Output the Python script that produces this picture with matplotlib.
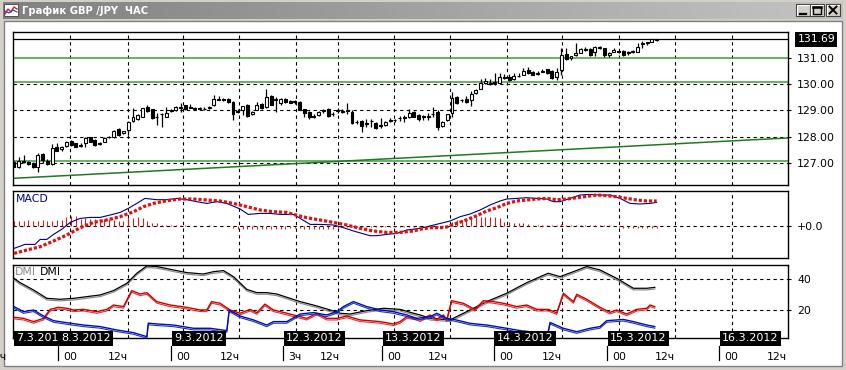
import matplotlib
matplotlib.use('Agg')
import matplotlib.pyplot as plt
import matplotlib.transforms as mtrans
from matplotlib.colors import LinearSegmentedColormap
from matplotlib.patches import Rectangle
import numpy as np

plt.rcParams['font.family'] = ['DejaVu Sans']

# === data: GBP/JPY, H1 ===
opens = [127.06, 126.87, 127.08, 127.06, 127.02, 126.87, 127.36, 127.10, 126.98, 127.63,
         127.53, 127.66, 127.84, 127.75, 127.66, 127.78, 127.98, 127.90, 127.74, 127.82,
         128.00, 127.98, 128.29, 128.14, 128.26, 128.62, 128.67, 128.77, 129.12, 129.04,
         128.75, 128.86, 128.77, 128.98, 129.00, 129.10, 129.20, 129.12, 129.08, 129.06,
         129.05, 129.10, 129.20, 129.45, 129.42, 129.43, 129.33, 128.96, 129.02, 129.21,
         128.86, 129.02, 129.24, 129.12, 129.55, 129.42, 129.27, 129.45, 129.37, 129.36,
         129.34, 129.04, 128.96, 128.80, 128.83, 128.98, 129.04, 128.86, 128.98, 128.99,
         128.97, 128.93, 128.58, 128.61, 128.52, 128.60, 128.54, 128.45, 128.45, 128.62,
         128.63, 128.70, 128.75, 128.75, 128.95, 128.82, 128.78, 128.76, 128.86, 128.96,
         128.42, 128.63, 128.92, 129.50, 129.38, 129.45, 129.38, 129.65, 129.82, 130.06,
         130.05, 130.05, 130.06, 130.25, 130.28, 130.18, 130.30, 130.35, 130.53, 130.47,
         130.42, 130.47, 130.56, 130.50, 130.28, 130.53, 131.14, 130.98, 131.10, 131.19,
         131.33, 131.32, 131.23, 131.40, 131.35, 131.10, 131.23, 131.27, 131.26, 131.18,
         131.23, 131.23, 131.52, 131.55, 131.61, 131.68]
highs = [127.10, 127.25, 127.32, 127.10, 127.05, 127.38, 127.38, 127.15, 127.73, 127.78,
         127.65, 127.85, 127.87, 127.78, 127.76, 127.98, 128.00, 127.92, 127.80, 128.01,
         128.03, 128.25, 128.33, 128.24, 128.60, 129.08, 128.88, 129.10, 129.20, 129.07,
         128.89, 128.92, 129.12, 129.05, 129.18, 129.27, 129.22, 129.25, 129.15, 129.13,
         129.12, 129.17, 129.59, 129.55, 129.48, 129.46, 129.36, 129.04, 129.18, 129.25,
         128.98, 129.33, 129.28, 129.80, 129.60, 129.52, 129.46, 129.48, 129.40, 129.38,
         129.36, 129.06, 128.98, 128.85, 128.97, 129.06, 129.08, 128.95, 129.08, 129.04,
         129.27, 129.02, 128.65, 128.64, 128.67, 128.67, 128.57, 128.70, 128.60, 128.70,
         128.67, 128.80, 128.84, 129.04, 128.98, 128.85, 128.84, 128.92, 129.15, 129.00,
         128.60, 128.88, 129.71, 129.55, 129.45, 129.55, 129.75, 129.80, 130.18, 130.22,
         130.18, 130.41, 130.43, 130.38, 130.38, 130.43, 130.41, 130.62, 130.63, 130.49,
         130.50, 130.59, 130.58, 130.52, 130.60, 131.35, 131.35, 131.05, 131.54, 131.35,
         131.39, 131.35, 131.45, 131.46, 131.37, 131.20, 131.35, 131.30, 131.28, 131.24,
         131.30, 131.54, 131.64, 131.61, 131.72, 131.72]
lows = [126.85, 126.83, 127.00, 126.95, 126.81, 126.68, 127.00, 126.95, 126.94, 127.45,
        127.48, 127.63, 127.65, 127.60, 127.62, 127.63, 127.80, 127.66, 127.70, 127.80,
        127.97, 127.95, 128.05, 128.10, 128.07, 128.58, 128.64, 128.75, 128.95, 128.68,
        128.45, 128.36, 128.74, 128.95, 128.98, 128.95, 129.02, 129.08, 129.00, 129.03,
        129.02, 129.05, 129.18, 129.38, 129.36, 129.28, 128.64, 128.92, 128.83, 128.76,
        128.83, 129.00, 129.05, 129.10, 129.20, 128.96, 129.22, 129.30, 129.28, 129.26,
        129.00, 128.77, 128.67, 128.72, 128.80, 128.92, 128.75, 128.80, 128.89, 128.90,
        128.86, 128.49, 128.48, 128.17, 128.36, 128.39, 128.30, 128.33, 128.42, 128.55,
        128.58, 128.62, 128.56, 128.72, 128.74, 128.62, 128.64, 128.65, 128.77, 128.26,
        128.38, 128.60, 128.77, 129.25, 129.33, 129.30, 129.17, 129.62, 129.80, 130.00,
        129.98, 129.97, 130.04, 130.20, 130.13, 130.15, 130.26, 130.33, 130.38, 130.33,
        130.36, 130.44, 130.38, 130.20, 130.16, 130.35, 130.90, 130.93, 131.08, 131.16,
        131.25, 131.06, 131.05, 131.33, 131.02, 131.04, 131.20, 131.17, 131.08, 131.12,
        131.18, 131.20, 131.35, 131.48, 131.58, 131.64]
closes = [126.87, 127.10, 127.06, 126.98, 126.85, 127.32, 127.13, 126.98, 127.57, 127.48,
          127.63, 127.82, 127.69, 127.63, 127.70, 127.94, 127.82, 127.69, 127.76, 127.95,
          128.01, 128.22, 128.08, 128.22, 128.58, 128.77, 128.83, 129.08, 128.99, 128.70,
          128.77, 128.88, 128.92, 129.02, 129.15, 129.12, 129.04, 129.10, 129.04, 129.08,
          129.07, 129.12, 129.43, 129.40, 129.38, 129.31, 128.87, 128.98, 129.17, 128.80,
          128.96, 129.21, 129.08, 129.52, 129.21, 129.40, 129.44, 129.33, 129.30, 129.34,
          129.02, 128.92, 128.77, 128.74, 128.95, 129.00, 128.79, 128.88, 129.01, 128.94,
          129.00, 128.51, 128.55, 128.41, 128.50, 128.62, 128.33, 128.42, 128.58, 128.64,
          128.64, 128.72, 128.73, 128.90, 128.77, 128.66, 128.76, 128.78, 128.88, 128.39,
          128.58, 128.86, 129.46, 129.30, 129.40, 129.34, 129.62, 129.77, 130.03, 130.10,
          130.00, 130.08, 130.26, 130.22, 130.15, 130.30, 130.31, 130.51, 130.41, 130.35,
          130.40, 130.50, 130.41, 130.22, 130.47, 131.10, 130.94, 131.06, 131.16, 131.32,
          131.28, 131.10, 131.41, 131.38, 131.10, 131.18, 131.28, 131.20, 131.10, 131.20,
          131.27, 131.42, 131.55, 131.58, 131.69, 131.69]

last_price = 131.69
price_ticks = [127.0, 128.0, 129.0, 130.0, 131.0]
support_levels = [131.00, 130.07, 127.10]     # green horizontal lines
trend_start, trend_end = 126.43, 127.96        # green trend line (left / right edge)

# MACD (pips): main line and signal, sampled at bar positions
macd_x = [0, 2.3, 4.4, 5.5, 6.9, 8.3, 10, 11.8, 13.9, 16, 18.1, 20.2, 22.3, 24, 25.8,
          27.5, 30, 32.1, 34.2, 36.3, 38.4, 40.5, 42.6, 44.7, 47.5, 49.2, 51.7, 53.8, 55.9, 58.7,
          60.1, 62.2, 64.3, 67.1, 69.2, 71.3, 74.8, 76.2, 78.3, 80.4, 82.5, 85.3, 91.6, 93.7, 95.8,
          97.9, 100, 102.1, 103.5, 105.6, 107.7, 109.8, 111.9, 113.3, 114.7, 116.8, 118.9, 121,
          123.1, 125.2, 127.3, 129.4, 131.5, 133.6, 135]
macd_v = [-22.7, -18.7, -18.7, -13.7, -13.7, -8.7, -3.7, 3.3, 7.3, 8.3, 8.3, 10.7, 13.3, 17.3, 22.3,
          27.3, 26, 26, 27.3, 26, 24, 22.3, 24, 22.3, 16.7, 11.3, 12.3, 12.3, 11.3, 11.3,
          7.3, 1.3, 1.3, 0.7, -2, -5.3, -10, -10, -8.7, -7.7, -4.3, -2.7, 4.7, 9, 11.7,
          15.7, 20.7, 24.7, 26.7, 27.3, 28, 27.3, 26.7, 24, 24, 27.3, 30.7, 31.3,
          30.7, 30.7, 27.3, 22.3, 21.7, 22.3, 23.3]
signal_x = [0, 2.7, 5.5, 8.3, 11.1, 13.9, 16.7, 19.5, 22.3, 25.1, 27.2, 29.3, 32.1, 34.9, 37.7,
            40.5, 43.3, 46.1, 48.9, 51.7, 54.5, 57.3, 58.7, 61.5, 64.3, 67.1, 69.9, 72.7, 75.5, 78.3,
            81.1, 83.9, 85.3, 87.4, 89.5, 90.9, 91.9, 93, 94.4, 95.8, 97.2, 99.3, 101.4, 103.5, 105.6,
            107.7, 109.8, 111.9, 114, 116.1, 118.2, 120.3, 122.4, 124.5, 126.6, 128.7, 130.8, 132.9, 135]
signal_v = [-27.7, -24.3, -21, -15.3, -9.3, -2, 3.3, 5.7, 9, 14, 19, 22.3, 25, 26.7, 26.7,
            25.7, 24.7, 22.3, 19, 15.7, 14, 13.3, 11.3, 8, 5.7, 3.3, 0.7, -2.7, -5.3, -6.7,
            -6.7, -5.3, -3.5, -2, -2, -1.3, 0.7, 2.3, 4.7, 7.3, 10, 14.7, 18, 22.3, 24.7,
            25.7, 26.7, 27.3, 26, 26.7, 28, 29.3, 30.7, 30, 29, 27.3, 25.7, 24.7, 24.7]
hist = [4.5, 5, 5, 5.5, 5, 5, 5.5, 5, 5, 5.5, 6,
        9, 10, 9.5,
        7, 7.5, 7, 7, 6.5, 7, 7,
        5.5, 5, 5,
        7.5, 8, 8.5, 8,
        5,
        3, 2.5,
        1.2, 1, 0.8, 0.8,
        0.4, 0.3, 0.2, 0.2, 0, 0, 0.3, 0.2, 0, -0.2, -0.4,
        -2, -3, -3.5, -3.5, -3, -3, -3.2, -3, -2.8, -3, -3.2, -3, -2.5,
        -2,
        -2.5, -3, -3.2, -3, -3.5, -3, -3, -2.8, -2.5,
        -1.5, -1.5, -1.2, -1, -1.2, -1, -1, -0.8, -1, -1.2, -1, -1, -1.2, -1, -1, -0.8, -0.8,
        -1, -1.2, -1, -0.8, -0.6, -0.4,
        4, 5.5, 6, 6.5,
        8, 9, 9, 8.5, 9, 8.5, 8,
        4, 3.5, 3, 3, 2.5, 2,
        1, 0.8, 0.6, 1, 0.8, 1.2, 1.5, 1, 0.8, 0.6, 1, 1.2, 0.8, 0.6, 0.8, 0.5, 0.4, 0.2,
        -1.5, -2, -2, -2.2, -2.5, -2, -2, -1.8, -2]

# DMI
adx_x = [0, 1.3, 4.1, 6.9, 9.7, 12.5, 15.3, 18.1, 20.9, 23.7, 25.8, 27.9, 30, 33.5, 36.3,
         39.8, 41.9, 44, 46.1, 48.9, 51, 53.1, 55.2, 58, 60.1, 63.6, 66.4, 68.5, 70.6, 74.1,
         77.6, 81.1, 83.9, 85.3, 87.4, 91.6, 95.8, 99.3, 103.5, 107.7, 112.2, 114.7, 117.5, 120.3,
         123.1, 126.6, 130.1, 132.9, 134.6]
adx_v = [40.4, 37.6, 32.9, 27.5, 26.9, 27.5, 28.6, 29.7, 32.5, 37.2, 43.7, 48.4, 48, 45.8, 44.1,
         43.2, 44.7, 45.4, 41.5, 33.3, 31.2, 31.2, 30.3, 27.5, 25.4, 22.6, 20, 17.9, 17.4, 19.6,
         21.1, 20.4, 17.9, 16.8, 14.6, 13.6, 20, 25.4, 30.8, 37.6, 43.7, 41.5, 44.7, 48,
         45.8, 40.4, 34, 34, 34.6]
pdi_x = [0, 2, 4.1, 6.2, 7.6, 9.3, 11.1, 12.5, 14.6, 17.4, 19.5, 20.9, 23, 24.7, 26.5,
         27.9, 30, 32.8, 36.3, 39.1, 40.5, 41.5, 43.3, 45.4, 47.5, 49.6, 51, 52.7, 54.5, 57.3,
         58.7, 61.5, 63.6, 65.7, 67.8, 69.9, 72.7, 76.9, 79.7, 81.1, 82.5, 84.6, 85.3, 87.4, 88.8,
         90.2, 90.9, 91.9, 94.4, 96.8, 98.6, 100.7, 102.8, 105.6, 107.7, 109.8, 112.2, 114, 115.4,
         117.5, 118.2, 120.3, 123.1, 125.2, 126.6, 128.7, 130.8, 132.9, 133.6, 134.6]
pdi_v = [15.3, 14.6, 12.5, 14.6, 20.4, 21.7, 21.1, 20, 20.4, 18.9, 20.4, 23.2, 22.2, 32.5, 30.3,
         31.2, 25.4, 23.2, 21.7, 20, 20, 25.4, 24.3, 20, 17.9, 20.4, 18.2, 23.8, 20, 17.9,
         16.8, 14.6, 17.9, 14.6, 14.6, 16.1, 13.6, 12.5, 11, 12.5, 15.7, 14.6, 13.6, 16.8, 14,
         16.8, 13.6, 26, 24.3, 20.4, 26, 25.4, 24.3, 22.2, 23.2, 20.4, 20.4, 18.2, 30.8,
         25.4, 30.1, 26.9, 21.7, 18.5, 20, 17.4, 20.4, 21.1, 23.2, 22.2]
mdi_x = [0, 2, 4.1, 6.2, 8.3, 11.1, 14.6, 18.1, 21.6, 25.1, 27.9, 28.2, 30, 33.5, 37.7,
         41.2, 44.7, 45.2, 47.5, 50.3, 53.1, 54.5, 57.3, 60.1, 62.9, 65.7, 67.8, 69.2, 71.3, 74.1,
         76.9, 79.7, 82.5, 84.6, 87.4, 88.8, 90.9, 92.3, 95.8, 99.3, 103.5, 106.3, 108.4, 112.2,
         112.6, 115.4, 118.2, 121, 123.1, 124.5, 128, 130.1, 132.9, 134.6]
mdi_v = [22.2, 18.9, 20, 16.1, 13.1, 11.8, 10.3, 9.3, 7.1, 5.4, 2.8, 11.5, 11, 10.3, 8.2,
         8.2, 6.7, 20, 16.1, 13.6, 10.3, 12.5, 12.5, 17.4, 18.3, 16.8, 18.9, 22.2, 25.4, 22.2,
         20, 18.9, 16.8, 14.6, 15.7, 17.9, 14.6, 14, 11.4, 10.3, 8.2, 6.7, 6, 6,
         12, 8.2, 6, 8.2, 9.3, 13.1, 13.9, 12.5, 10.3, 9.3]
dmi_ticks = [20, 40]

# time axis
day_labels = ['7.3.2012', '8.3.2012', '9.3.2012', '12.3.2012', '13.3.2012',
              '14.3.2012', '15.3.2012', '16.3.2012']
day_start_bar = [-0.2, 9.2, 33.0, 56.5, 77.3, 100.8, 124.6, 148.1]
hour_labels = ['12ч', '00', '12ч', '00', '12ч', '3ч', '12ч', '00', '12ч',
               '00', '12ч', '00', '12ч', '00', '12ч']
hour_bar = [-1.5, 9.2, 23.9, 33.0, 47.5, 56.5, 68.5, 77.3, 91.2,
            100.8, 115.1, 124.6, 138.8, 148.1, 162.4]

# === layout (pixels) ===
W, H = 846, 370
fig = plt.figure(figsize=(W / 100, H / 100), dpi=100)
fig.patch.set_facecolor('#d4d0c8')

BAR_PX = (656.7 - 14.0) / (len(opens) - 1)
LEFT, RIGHT = 12.7, 788.0
GRID_PX = [70.3, 127.7, 183.3, 239.3, 295.7, 337.7, 394.3, 450.3, 506.7,
           562.3, 619.3, 675.3, 731.7]
FS = 7.8


def px2bar(px):
    return (px - 14.0) / BAR_PX


def dash(ax, horiz=()):
    kw = dict(color='black', lw=0.8, ls=(0, (3, 3)), zorder=1)
    for g in GRID_PX:
        ax.axvline(px2bar(g), **kw)
    for g in horiz:
        ax.axhline(g, **kw)


def panel(top, bottom):
    ax = fig.add_axes([LEFT / W, 1 - bottom / H, (RIGHT - LEFT) / W, (bottom - top) / H], zorder=2)
    ax.set_xlim(px2bar(LEFT), px2bar(RIGHT))
    ax.set_facecolor('white')
    for s in ax.spines.values():
        s.set_linewidth(1.0)
        s.set_color('black')
    ax.set_xticks([])
    ax.yaxis.tick_right()
    ax.tick_params(axis='y', length=2.5, width=0.8, pad=4, labelsize=FS)
    return ax


# window chrome
bg = fig.add_axes([0, 0, 1, 1], zorder=0)
bg.axis('off')
title_cmap = LinearSegmentedColormap.from_list('title', ['#808080', '#c4c4c4'])
bg.imshow(np.linspace(0, 1, 256)[None, :], cmap=title_cmap, extent=(3, 843, 19, 2), aspect='auto')
bg.add_patch(Rectangle((4, 21), 838, 345, fc='white', ec='#808080', lw=1))
bg.add_patch(Rectangle((4, 4), 14, 12, fc='white', ec='#505050', lw=0.7))
bg.plot([5, 8, 11, 14, 17], [14, 9, 12, 7, 9], color='#cc2020', lw=1)
bg.plot([5, 9, 13, 17], [11, 13, 10, 12], color='#2040c0', lw=0.8)
bg.text(22, 11, 'График GBP /JPY  ЧАС', color='white', fontweight='bold',
        fontsize=7.2, va='center', ha='left')
for bx in (796, 810, 826):
    bg.add_patch(Rectangle((bx, 4), 14, 12, fc='#d4d0c8', ec='#404040', lw=0.8))
    bg.plot([bx + 0.5, bx + 0.5, bx + 13], [15, 4.5, 4.5], color='white', lw=0.8)
bg.plot([800, 806], [13.5, 13.5], color='black', lw=1.6)
bg.add_patch(Rectangle((813, 6.5), 8, 7, fc='none', ec='black', lw=1))
bg.plot([813, 821], [7, 7], color='black', lw=1.8)
bg.plot([829.5, 836.5], [6.5, 13.5], color='black', lw=1.4)
bg.plot([829.5, 836.5], [13.5, 6.5], color='black', lw=1.4)
bg.set_xlim(0, W)
bg.set_ylim(H, 0)

# --- price panel ---
ax1 = panel(32, 185)
ax1.set_ylim(126.178, 131.973)
dash(ax1, horiz=price_ticks[:-1])
x = np.arange(len(opens))
o, h, l, c = (np.array(v) for v in (opens, highs, lows, closes))
ax1.vlines(x, l, h, color='black', lw=0.9, zorder=4)
bull = c >= o
ax1.bar(x, np.abs(c - o), bottom=np.minimum(o, c), width=0.62,
        color=np.where(bull, 'white', 'black'), edgecolor='black', lw=0.8, zorder=5)
for lvl in support_levels:
    ax1.axhline(lvl, color='#3c9e3c', lw=1.1, zorder=2)
ax1.plot([px2bar(LEFT), px2bar(RIGHT)], [trend_start, trend_end], color='#217a21', lw=1.1, zorder=2)
ax1.axhline(last_price, color='black', lw=0.9, zorder=2)
ax1.set_yticks(price_ticks)
ax1.set_yticklabels([f'{v:.2f}' for v in price_ticks])
ax1.annotate(f'{last_price:.2f}', xy=(1, last_price), xycoords=('axes fraction', 'data'),
             xytext=(9.5, 0), textcoords='offset pixels', va='center', ha='left',
             color='white', fontsize=FS, annotation_clip=False,
             bbox=dict(boxstyle='square,pad=0.2', fc='black', ec='none'))

# --- MACD panel ---
ax2 = panel(191, 258.3)
ax2.set_ylim(-32.6, 34.7)
dash(ax2, horiz=[0])
ax2.vlines(np.arange(len(hist)), 0, hist, color='#d02020', lw=0.8, zorder=2)
ax2.plot(macd_x, macd_v, color='#000080', lw=0.8, zorder=3)
ax2.plot(signal_x, signal_v, color='#dd1111', lw=2.3, ls=(0, (1, 0.6)),
         dash_capstyle='butt', zorder=4)
ax2.set_yticks([0])
ax2.set_yticklabels(['+0.0'])
ax2.text(0.004, 0.95, 'MACD', transform=ax2.transAxes, color='#000080',
         fontsize=FS, va='top', ha='left')

# --- DMI panel ---
ax3 = panel(264.7, 338.3)
ax3.set_ylim(1.74, 49.2)
dash(ax3, horiz=dmi_ticks)
low2 = mtrans.offset_copy(ax3.transData, fig=fig, x=0, y=-1.6, units='dots')
ax3.plot(adx_x, adx_v, color='#8c8c8c', lw=0.9, transform=low2, zorder=3)
ax3.plot(adx_x, adx_v, color='black', lw=0.9, zorder=3)
ax3.plot(pdi_x, pdi_v, color='#e03030', lw=0.8, transform=low2, zorder=3)
ax3.plot(pdi_x, pdi_v, color='#cc0000', lw=1.0, zorder=3)
ax3.plot(mdi_x, mdi_v, color='#2030c0', lw=0.8, transform=low2, zorder=3)
ax3.plot(mdi_x, mdi_v, color='#0010b0', lw=1.0, zorder=3)
ax3.set_yticks(dmi_ticks)
ax3.set_yticklabels([str(t) for t in dmi_ticks])
ax3.annotate('DMI', xy=(0, 1), xycoords='axes fraction', xytext=(2, -2),
             textcoords='offset pixels', color='#8a8a8a', fontsize=FS, va='top')
ax3.annotate('DMI', xy=(0, 1), xycoords='axes fraction', xytext=(27, -2),
             textcoords='offset pixels', color='black', fontsize=FS, va='top')

# time axis: date boxes, day ticks, hour labels
xt = mtrans.blended_transform_factory(ax3.transData, ax3.transAxes)
for b, lab in zip(day_start_bar, day_labels):
    ax3.annotate(lab, xy=(b, 0), xycoords=xt, xytext=(3, 0), textcoords='offset pixels',
                 color='white', fontsize=8, va='center', ha='left', annotation_clip=False,
                 zorder=6, bbox=dict(boxstyle='square,pad=0.22', fc='black', ec='none'))
    if b > 0:
        ax3.plot([b, b], [-0.11, -0.3], color='black', lw=0.9, transform=xt, clip_on=False)
for b, lab in zip(hour_bar, hour_labels):
    right = lab.startswith('12')
    ax3.annotate(lab, xy=(b, 0), xycoords=xt, xytext=(0 if right else 5, -18.5),
                 textcoords='offset pixels', color='black', fontsize=FS, va='center',
                 ha='right' if right else 'left', annotation_clip=False)

fig.savefig('out.png', dpi=100, facecolor=fig.get_facecolor())
